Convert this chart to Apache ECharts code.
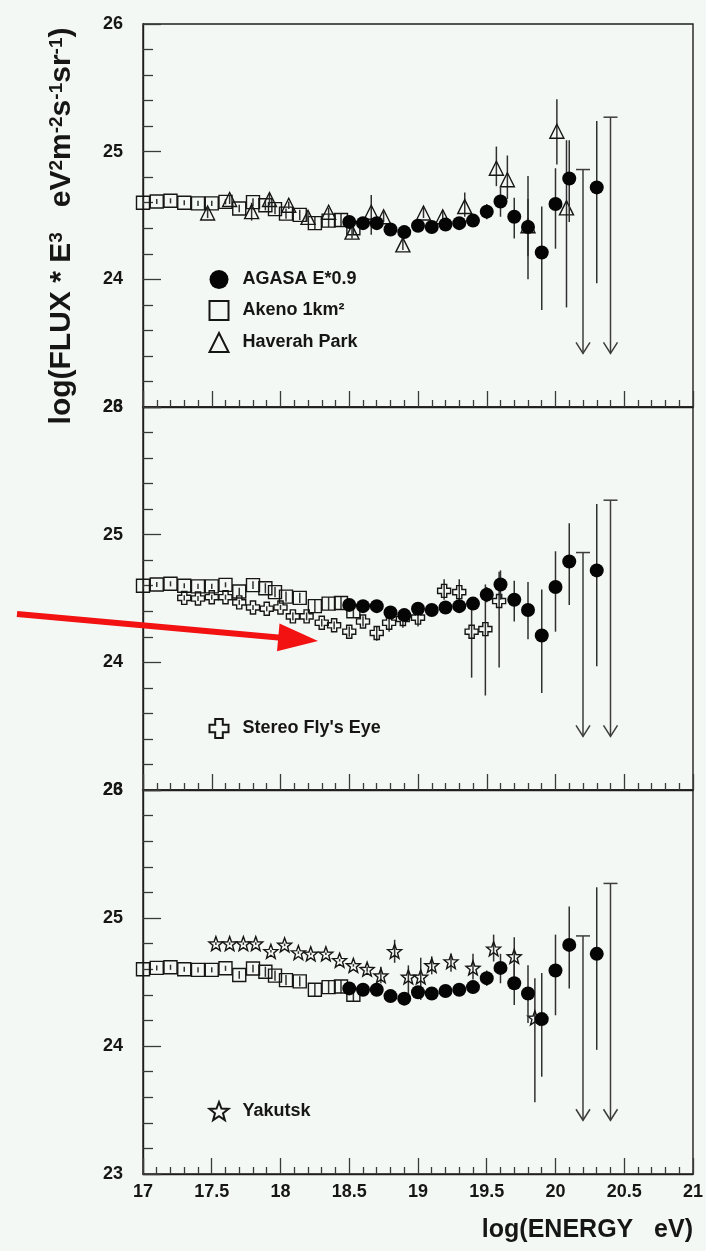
<!DOCTYPE html>
<html>
<head>
<meta charset="utf-8">
<script src="https://cdn.jsdelivr.net/npm/echarts@6/dist/echarts.min.js"></script>
<style>
  html, body { margin: 0; padding: 0; background: #f4f8f5; }
  #chart { width: 706px; height: 1251px; }
</style>
</head>
<body>
<div id="chart"></div>
<script>
// ---- AGASA (energy scaled by 0.9) ----
const agasaE  = [18.5, 18.6, 18.7, 18.8, 18.9, 19.0, 19.1, 19.2, 19.3, 19.4, 19.5, 19.6, 19.7, 19.8, 19.9, 20.0, 20.1, 20.3];
const agasaV  = [24.45, 24.44, 24.44, 24.39, 24.37, 24.42, 24.41, 24.43, 24.44, 24.46, 24.53, 24.61, 24.49, 24.41, 24.21, 24.59, 24.79, 24.72];
const agasaHi = [24.48, 24.47, 24.48, 24.42, 24.40, 24.45, 24.44, 24.46, 24.48, 24.51, 24.59, 24.72, 24.64, 24.63, 24.57, 24.87, 25.09, 25.24];
const agasaLo = [24.42, 24.41, 24.40, 24.36, 24.34, 24.39, 24.38, 24.40, 24.40, 24.41, 24.47, 24.49, 24.32, 24.18, 23.76, 24.24, 24.45, 23.97];
// AGASA upper limits: energy, cap value, arrow tip value
const limE   = [20.2, 20.4];
const limTop = [24.86, 25.27];
const limTip = [23.42, 23.42];

// ---- Akeno 1 km^2 ----
const akenoE   = [17.0, 17.1, 17.2, 17.3, 17.4, 17.5, 17.6, 17.7, 17.8, 17.89, 17.96, 18.04, 18.14, 18.25, 18.35, 18.44, 18.53];
const akenoV   = [24.60, 24.61, 24.615, 24.60, 24.595, 24.595, 24.607, 24.555, 24.605, 24.58, 24.55, 24.515, 24.505, 24.44, 24.46, 24.465, 24.40];
const akenoErr = [0.02, 0.02, 0.02, 0.02, 0.02, 0.02, 0.02, 0.03, 0.03, 0.04, 0.04, 0.04, 0.04, 0.05, 0.05, 0.05, 0.05];

// ---- Haverah Park ----
const havE  = [17.47, 17.63, 17.79, 17.92, 18.06, 18.2, 18.35, 18.52, 18.66, 18.75, 18.89, 19.04, 19.18, 19.34, 19.57, 19.65, 19.8, 20.01, 20.08];
const havV  = [24.52, 24.625, 24.53, 24.625, 24.58, 24.485, 24.525, 24.37, 24.525, 24.49, 24.27, 24.52, 24.49, 24.57, 24.87, 24.78, 24.42, 25.16, 24.56];
const havHi = [24.56, 24.66, 24.60, 24.67, 24.61, 24.52, 24.56, 24.42, 24.66, 24.53, 24.31, 24.56, 24.54, 24.68, 25.04, 24.97, 24.81, 25.41, 25.09];
const havLo = [24.48, 24.59, 24.46, 24.58, 24.55, 24.45, 24.49, 24.32, 24.35, 24.45, 24.23, 24.48, 24.44, 24.49, 24.73, 24.63, 24.00, 24.90, 23.78];

// ---- Stereo Fly's Eye ----
const flyE  = [17.3, 17.4, 17.5, 17.6, 17.7, 17.8, 17.9, 18.0, 18.09, 18.19, 18.3, 18.39, 18.5, 18.6, 18.7, 18.79, 18.89, 19.0, 19.19, 19.3, 19.39, 19.49, 19.59];
const flyV  = [24.505, 24.50, 24.51, 24.51, 24.47, 24.43, 24.42, 24.43, 24.36, 24.36, 24.31, 24.29, 24.24, 24.32, 24.23, 24.31, 24.34, 24.35, 24.56, 24.55, 24.24, 24.26, 24.48];
const flyHi = [24.525, 24.52, 24.53, 24.53, 24.49, 24.45, 24.44, 24.45, 24.39, 24.39, 24.34, 24.32, 24.28, 24.36, 24.28, 24.36, 24.39, 24.40, 24.65, 24.65, 24.49, 24.61, 24.71];
const flyLo = [24.485, 24.48, 24.49, 24.49, 24.45, 24.41, 24.40, 24.41, 24.33, 24.33, 24.28, 24.26, 24.20, 24.28, 24.17, 24.24, 24.27, 24.28, 24.49, 24.47, 23.88, 23.74, 23.96];

// ---- Yakutsk ----
const yakE  = [17.53, 17.63, 17.73, 17.82, 17.93, 18.03, 18.13, 18.22, 18.33, 18.43, 18.53, 18.63, 18.73, 18.83, 18.93, 19.02, 19.10, 19.24, 19.40, 19.55, 19.70, 19.85];
const yakV  = [24.80, 24.80, 24.80, 24.80, 24.74, 24.79, 24.73, 24.72, 24.72, 24.67, 24.63, 24.60, 24.55, 24.74, 24.54, 24.54, 24.63, 24.66, 24.61, 24.76, 24.70, 24.22];
const yakHi = [24.81, 24.81, 24.81, 24.81, 24.75, 24.80, 24.74, 24.73, 24.73, 24.68, 24.64, 24.62, 24.62, 24.83, 24.63, 24.69, 24.70, 24.72, 24.72, 24.87, 24.85, 24.53];
const yakLo = [24.79, 24.79, 24.79, 24.79, 24.73, 24.78, 24.72, 24.71, 24.71, 24.66, 24.62, 24.58, 24.49, 24.65, 24.36, 24.36, 24.56, 24.58, 24.52, 24.66, 24.45, 23.56];

// ---- axis ranges / tick labels ----
const xRange = [17, 21];
const xTickStep = 0.5;
const yRange = [23, 26];
const yTickStep = 1;

const FONT = '"Liberation Sans", Arial, Helvetica, sans-serif';
const INK = '#161616';
const BAR = '#303030';
const BG = '#f4f8f5';

// symbol outlines
const crossPath = 'path://M-1.2,-3L1.2,-3L1.2,-1.2L3,-1.2L3,1.2L1.2,1.2L1.2,3L-1.2,3L-1.2,1.2L-3,1.2L-3,-1.2L-1.2,-1.2Z';
const starPath = (function () {
  const pts = [];
  for (let k = 0; k < 10; k++) {
    const a = (-90 + 36 * k) * Math.PI / 180;
    const r = k % 2 === 0 ? 1 : 0.42;
    pts.push((r * Math.cos(a)).toFixed(3) + ',' + (r * Math.sin(a)).toFixed(3));
  }
  return 'path://M' + pts.join('L') + 'Z';
})();

const zip = (...cols) => cols[0].map((_, i) => cols.map(c => c[i]));

function errorBarRender(params, api) {
  const x = api.value(0);
  const p1 = api.coord([x, api.value(1)]);
  const p2 = api.coord([x, api.value(2)]);
  return {
    type: 'line',
    shape: { x1: p1[0], y1: p1[1], x2: p2[0], y2: p2[1] },
    style: { stroke: BAR, lineWidth: 1.5 }
  };
}

function upperLimitRender(params, api) {
  const x = api.value(0);
  const top = api.coord([x, api.value(1)]);
  const tip = api.coord([x, api.value(2)]);
  const st = { stroke: '#3c3c3c', lineWidth: 1.5, fill: null };
  return {
    type: 'group',
    children: [
      { type: 'line', shape: { x1: top[0], y1: top[1], x2: tip[0], y2: tip[1] }, style: st },
      { type: 'line', shape: { x1: top[0] - 7, y1: top[1], x2: top[0] + 7, y2: top[1] }, style: st },
      { type: 'polyline', shape: { points: [[tip[0] - 7, tip[1] - 11], [tip[0], tip[1]], [tip[0] + 7, tip[1] - 11]] }, style: st }
    ]
  };
}

function errorSeries(idx, id, xs, lo, hi, z) {
  return {
    type: 'custom', id: id, name: id, xAxisIndex: idx, yAxisIndex: idx,
    renderItem: errorBarRender, encode: { x: 0, y: [1, 2] },
    data: zip(xs, lo, hi), z: z, silent: true, clip: true
  };
}

function scatterSeries(idx, name, xs, ys, symbol, size, itemStyle, z) {
  return {
    type: 'scatter', name: name, xAxisIndex: idx, yAxisIndex: idx,
    symbol: symbol, symbolSize: size, itemStyle: itemStyle,
    data: zip(xs, ys), z: z, silent: true, clip: true
  };
}

const openStyle = { color: 'transparent', borderColor: INK, borderWidth: 1.4, opacity: 1 };
const solidStyle = { color: '#050505', borderColor: '#050505', borderWidth: 0, opacity: 1 };

function commonSeries(idx) {
  const akLo = akenoV.map((v, i) => v - akenoErr[i]);
  const akHi = akenoV.map((v, i) => v + akenoErr[i]);
  return [
    errorSeries(idx, 'akeno-err-' + idx, akenoE, akLo, akHi, 2),
    scatterSeries(idx, 'Akeno 1km²', akenoE, akenoV, 'rect', 13, openStyle, 3),
    errorSeries(idx, 'agasa-err-' + idx, agasaE, agasaLo, agasaHi, 5),
    scatterSeries(idx, 'AGASA E*0.9', agasaE, agasaV, 'circle', 14, solidStyle, 6),
    {
      type: 'custom', id: 'agasa-limit-' + idx, name: 'agasa-limit-' + idx,
      xAxisIndex: idx, yAxisIndex: idx, renderItem: upperLimitRender,
      encode: { x: 0, y: [1, 2] }, data: zip(limE, limTop, limTip), z: 5, silent: true
    }
  ];
}

const series = [
  // top panel: Haverah Park
  ...commonSeries(0),
  errorSeries(0, 'hav-err', havE, havLo, havHi, 4),
  scatterSeries(0, 'Haverah Park', havE, havV, 'triangle', 14, openStyle, 4),
  // middle panel: Stereo Fly's Eye
  ...commonSeries(1),
  errorSeries(1, 'fly-err', flyE, flyLo, flyHi, 4),
  scatterSeries(1, "Stereo Fly's Eye", flyE, flyV, crossPath, 13, openStyle, 4),
  // bottom panel: Yakutsk
  ...commonSeries(2),
  errorSeries(2, 'yak-err', yakE, yakLo, yakHi, 4),
  scatterSeries(2, 'Yakutsk', yakE, yakV, starPath, 14, openStyle, 4)
];

const panelTops = [24, 407, 790];
const panelHeights = [383, 383, 384];

const grids = panelTops.map((t, i) => ({
  left: 143, top: t, width: 550, height: panelHeights[i],
  show: true, borderColor: '#1e1e1e', borderWidth: 1.4, backgroundColor: 'transparent'
}));

const xAxes = panelTops.map((t, i) => ({
  type: 'value', gridIndex: i, min: xRange[0], max: xRange[1], interval: xTickStep,
  axisLine: { show: true, onZero: false, lineStyle: { color: '#1e1e1e', width: 1.4 } },
  axisTick: { show: true, inside: true, length: 16, lineStyle: { color: '#3a3a3a', width: 1.3 } },
  minorTick: { show: true, splitNumber: 5, length: 7, lineStyle: { color: '#3a3a3a', width: 1.3 } },
  splitLine: { show: false },
  axisLabel: {
    show: i === 2, margin: 9, color: INK, fontFamily: FONT, fontWeight: 'bold', fontSize: 18
  }
}));

const yAxes = panelTops.map((t, i) => ({
  type: 'value', gridIndex: i, min: yRange[0], max: yRange[1], interval: yTickStep,
  axisLine: { show: true, onZero: false, lineStyle: { color: '#1e1e1e', width: 1.4 } },
  axisTick: { show: true, inside: true, length: 18, lineStyle: { color: '#3a3a3a', width: 1.3 } },
  minorTick: { show: true, splitNumber: 5, length: 10, lineStyle: { color: '#3a3a3a', width: 1.3 } },
  splitLine: { show: false },
  axisLabel: {
    show: true, margin: 20, color: INK, fontFamily: FONT, fontWeight: 'bold', fontSize: 18,
    showMinLabel: true, showMaxLabel: true, hideOverlap: false
  }
}));

function legendBlock(names, top) {
  return {
    data: names, orient: 'vertical', left: 203.5, top: top,
    itemWidth: 19, itemHeight: 19, itemGap: 11, selectedMode: false,
    itemStyle: { opacity: 1 },
    textStyle: { color: INK, fontFamily: FONT, fontWeight: 'bold', fontSize: 18, padding: [0, 0, 0, 9] }
  };
}

const option = {
  backgroundColor: BG,
  animation: false,
  grid: grids,
  xAxis: xAxes,
  yAxis: yAxes,
  legend: [
    legendBlock(['AGASA E*0.9', 'Akeno 1km²', 'Haverah Park'], 265),
    legendBlock(["Stereo Fly's Eye"], 713),
    legendBlock(['Yakutsk'], 1096)
  ],
  series: series,
  graphic: [
    {
      type: 'text', x: 62, y: 226, rotation: Math.PI / 2, silent: true,
      style: {
        text: 'log(FLUX * E{sup|3}   eV{sup|2}m{sup|-2}s{sup|-1}sr{sup|-1})',
        fill: INK, font: 'bold 30px ' + FONT, align: 'center', verticalAlign: 'middle',
        lineHeight: 30,
        rich: { sup: { fontSize: 19, fontWeight: 'bold', fontFamily: FONT, fill: INK, verticalAlign: 'top', lineHeight: 19 } }
      }
    },
    {
      type: 'text', x: 693, y: 1230, silent: true,
      style: {
        text: 'log(ENERGY   eV)', fill: INK, font: 'bold 25px ' + FONT,
        align: 'right', verticalAlign: 'middle'
      }
    },
    // red pointer arrow
    {
      type: 'line', silent: true, z: 100,
      shape: { x1: 17, y1: 614, x2: 281, y2: 637.7 },
      style: { stroke: '#f21212', lineWidth: 6 }
    },
    {
      type: 'polygon', silent: true, z: 100,
      shape: { points: [[318, 641], [279.5, 623.5], [277, 651.3]] },
      style: { fill: '#f21212' }
    }
  ]
};

const chart = echarts.init(document.getElementById('chart'), null, { renderer: 'canvas' });
chart.setOption(option);
</script>
</body>
</html>
